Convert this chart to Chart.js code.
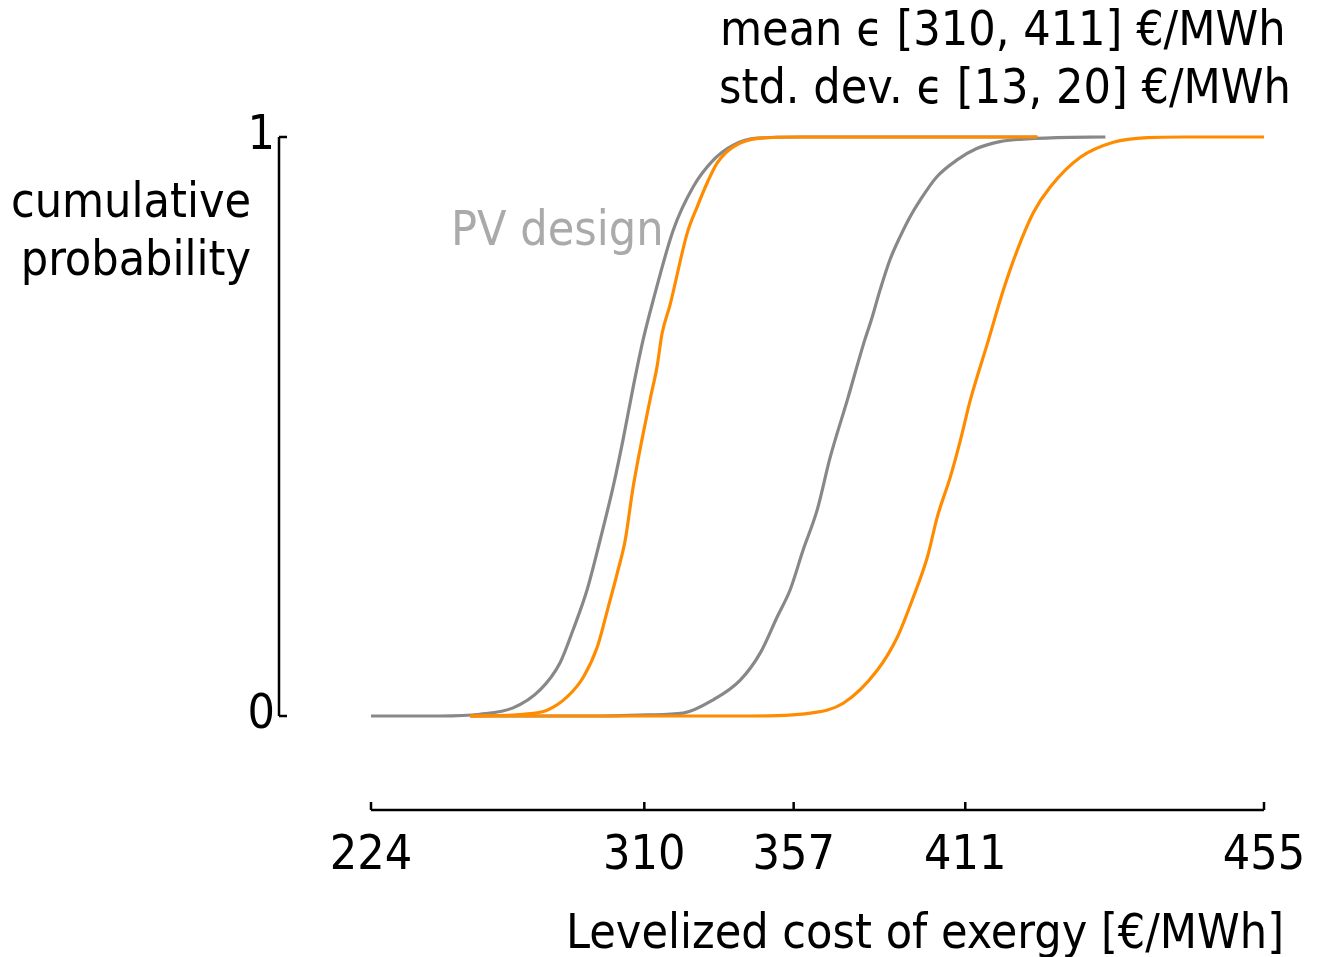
<!DOCTYPE html>
<html lang="en">
<head>
    <meta charset="UTF-8">
    <title>Levelized cost of exergy - cumulative probability</title>
    <style>
        body {
            margin: 0;
            background: #ffffff;
        }
        #wrap {
            width: 1317px;
            height: 957px;
        }
    </style>
    <script src="https://cdn.jsdelivr.net/npm/chart.js"></script>
</head>
<body>
    <div id="wrap">
        <canvas id="cdfChart" width="1317" height="957"></canvas>
    </div>

    <script>
        const grayLowCost = [224, 245.7, 258.3, 268.7, 277.2, 283.5, 287.6, 292.0, 296.1, 300.2, 303.3, 306.5, 309.6, 312.8, 319.1, 325.4, 331.7, 338.0, 345.5, 359.1, 433.7];
        const grayLowProb = [0, 0, 0.003, 0.014, 0.045, 0.092, 0.149, 0.218, 0.304, 0.396, 0.477, 0.568, 0.649, 0.718, 0.839, 0.914, 0.960, 0.986, 0.998, 1, 1];

        const grayHighCost = [255.2, 296.1, 310.9, 322.2, 331.7, 340.2, 346.5, 351.8, 355.9, 360.0, 364.4, 368.5, 373.9, 378.9, 381.6, 384.2, 387.3, 390.5, 393.6, 396.8, 402.0, 408.3, 414.6, 421.9, 428.2, 440.0, 455.1];
        const grayHighProb = [0, 0, 0.002, 0.005, 0.028, 0.062, 0.109, 0.171, 0.218, 0.287, 0.356, 0.447, 0.546, 0.641, 0.687, 0.736, 0.788, 0.828, 0.862, 0.891, 0.931, 0.960, 0.980, 0.992, 0.996, 0.999, 1];

        const orangeLowCost = [255.2, 271.9, 279.4, 285.7, 290.8, 295.2, 298.4, 301.5, 304.0, 306.5, 311.8, 314.0, 315.6, 318.1, 323.5, 326.6, 329.8, 332.9, 338.0, 346.5, 359.1, 433.7];
        const orangeLowProb = [0, 0.003, 0.010, 0.033, 0.067, 0.119, 0.183, 0.247, 0.304, 0.396, 0.546, 0.603, 0.661, 0.710, 0.834, 0.879, 0.921, 0.955, 0.983, 0.998, 1, 1];

        const orangeHighCost = [255.2, 343.3, 362.2, 372.6, 383.3, 389.6, 394.7, 399.1, 402.2, 406.3, 409.5, 412.6, 418.0, 423.0, 427.4, 432.4, 437.8, 447.2, 457.6, 468.3, 479.7, 505.0];
        const orangeHighProb = [0, 0, 0.005, 0.022, 0.079, 0.136, 0.206, 0.275, 0.344, 0.413, 0.477, 0.546, 0.644, 0.736, 0.805, 0.869, 0.914, 0.965, 0.991, 0.999, 1, 1];

        // Axis ticks
        const xTickValues = [224, 310, 357, 411, 505];
        const xTickLabels = ['224', '310', '357', '411', '455'];
        const yTickValues = [0, 1];
        const yTickLabels = ['0', '1'];

        const FONT = "'DejaVu Sans Condensed', 'DejaVu Sans', sans-serif";
        Chart.defaults.font.family = FONT;
        Chart.defaults.font.size = 48;
        Chart.defaults.color = '#000000';

        function toPoints(cost, prob) {
            return cost.map((c, i) => ({ x: c, y: prob[i] }));
        }

        function curve(cost, prob, color, order) {
            return {
                data: toPoints(cost, prob),
                borderColor: color,
                borderWidth: 3.2,
                pointRadius: 0,
                cubicInterpolationMode: 'monotone',
                fill: false,
                clip: false,
                order: order
            };
        }

        // Detached axis lines with inward ticks, placed from the scales
        const axisLines = {
            id: 'axisLines',
            afterDraw(chart) {
                const { ctx, chartArea, scales } = chart;
                const axisX = chartArea.left - 92;
                const axisY = chartArea.bottom + 94;
                ctx.save();
                ctx.strokeStyle = '#000000';
                ctx.lineWidth = 2.5;
                ctx.beginPath();
                ctx.moveTo(axisX, scales.y.getPixelForValue(1));
                ctx.lineTo(axisX, scales.y.getPixelForValue(0));
                yTickValues.forEach(v => {
                    const py = scales.y.getPixelForValue(v);
                    ctx.moveTo(axisX, py);
                    ctx.lineTo(axisX + 8, py);
                });
                ctx.moveTo(scales.x.getPixelForValue(xTickValues[0]), axisY);
                ctx.lineTo(scales.x.getPixelForValue(xTickValues[xTickValues.length - 1]), axisY);
                xTickValues.forEach(v => {
                    const px = scales.x.getPixelForValue(v);
                    ctx.moveTo(px, axisY);
                    ctx.lineTo(px, axisY - 8);
                });
                ctx.stroke();
                ctx.restore();
            }
        };

        // Header, axis names and the design annotation
        const textLabels = {
            id: 'textLabels',
            afterDraw(chart) {
                const ctx = chart.ctx;
                ctx.save();
                ctx.font = '48px ' + FONT;
                ctx.textBaseline = 'alphabetic';
                ctx.fillStyle = '#000000';
                ctx.textAlign = 'left';
                ctx.fillText('mean ϵ [310, 411] €/MWh', 720, 45);
                ctx.fillText('std. dev. ϵ [13, 20] €/MWh', 719, 103);
                ctx.textAlign = 'right';
                ctx.fillText('cumulative', 251, 217);
                ctx.fillText('probability', 251, 275);
                ctx.fillText('Levelized cost of exergy [€/MWh]', 1284, 948);
                ctx.textAlign = 'left';
                ctx.fillStyle = '#aaaaaa';
                ctx.fillText('PV design', 451, 245);
                ctx.restore();
            }
        };

        const ctxCdf = document.getElementById('cdfChart').getContext('2d');
        const cdfChart = new Chart(ctxCdf, {
            type: 'line',
            data: {
                datasets: [
                    curve(grayLowCost, grayLowProb, '#888888', 1),
                    curve(grayHighCost, grayHighProb, '#888888', 1),
                    curve(orangeLowCost, orangeLowProb, '#ff8c00', 0),
                    curve(orangeHighCost, orangeHighProb, '#ff8c00', 0)
                ]
            },
            options: {
                responsive: false,
                animation: false,
                devicePixelRatio: 1,
                layout: {
                    padding: { left: 0, right: 53, top: 137, bottom: 0 }
                },
                plugins: {
                    legend: { display: false },
                    tooltip: { enabled: false }
                },
                scales: {
                    x: {
                        type: 'linear',
                        min: 224,
                        max: 505,
                        grid: { display: false, drawTicks: false },
                        border: { display: false },
                        afterFit: scale => {
                            scale.height = 241;
                            scale.paddingLeft = 0;
                            scale.paddingRight = 0;
                        },
                        afterBuildTicks: scale => {
                            scale.ticks = xTickValues.map(v => ({ value: v }));
                        },
                        ticks: {
                            autoSkip: false,
                            maxRotation: 0,
                            padding: 112,
                            callback: (value, index) => xTickLabels[index]
                        }
                    },
                    y: {
                        type: 'linear',
                        min: 0,
                        max: 1,
                        grid: { display: false, drawTicks: false },
                        border: { display: false },
                        afterFit: scale => {
                            scale.width = 371;
                            scale.paddingTop = 0;
                            scale.paddingBottom = 0;
                        },
                        afterBuildTicks: scale => {
                            scale.ticks = yTickValues.map(v => ({ value: v }));
                        },
                        ticks: {
                            padding: 96,
                            callback: (value, index) => yTickLabels[index]
                        }
                    }
                }
            },
            plugins: [axisLines, textLabels]
        });
    </script>
</body>
</html>
